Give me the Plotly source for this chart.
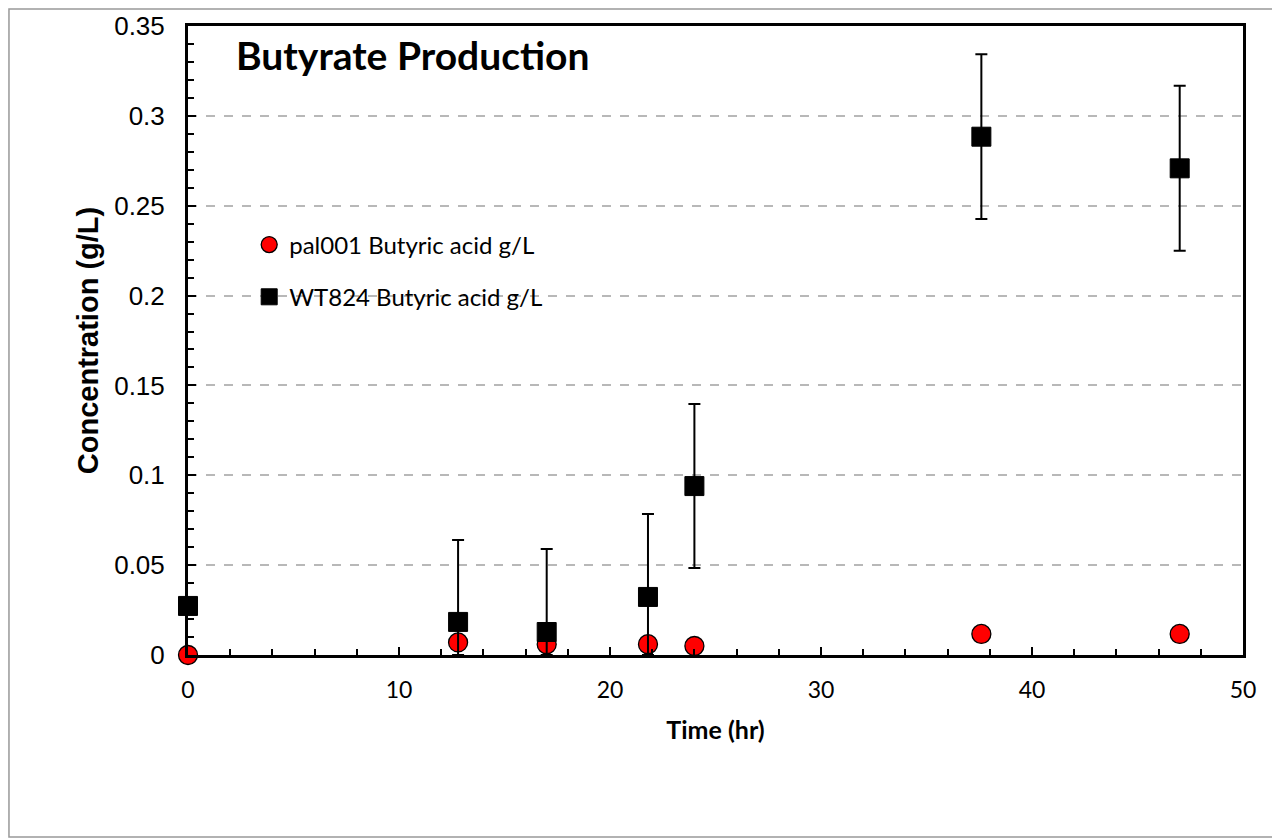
import plotly.graph_objects as go

# time points (hr)
time_hr = [0, 12.8, 17, 21.8, 24, 37.6, 47]

# pal001 butyric acid (g/L)
pal001 = [0.0, 0.007, 0.006, 0.006, 0.005, 0.0117, 0.0117]

# WT824 butyric acid (g/L) with error bars (up / down as visible)
wt824 = [0.0273, 0.0184, 0.0128, 0.0323, 0.094, 0.2884, 0.2708]
wt824_err_up = [0.0, 0.0456, 0.0462, 0.0462, 0.0457, 0.0459, 0.046]
wt824_err_down = [0.0, 0.0184, 0.0128, 0.0323, 0.0456, 0.0458, 0.0458]

FONT_AXIS = "Liberation Sans, Arial, sans-serif"
FONT_BODY = "Lato, Open Sans, sans-serif"

fig = go.Figure()

fig.add_trace(go.Scatter(
    x=time_hr, y=pal001, mode="markers", name="pal001 Butyric acid g/L",
    legendgroup="a",
    marker=dict(symbol="circle", size=19, color="#ff0000", line=dict(color="black", width=1.3)),
    cliponaxis=False,
))

fig.add_trace(go.Scatter(
    x=time_hr, y=wt824, mode="markers", name="WT824 Butyric acid g/L",
    legendgroup="b",
    marker=dict(symbol="square", size=19, color="black", line=dict(color="black", width=1)),
    error_y=dict(type="data", symmetric=False, array=wt824_err_up, arrayminus=wt824_err_down,
                 color="black", thickness=2, width=6),
    cliponaxis=False,
))

# page body has an 8px margin, so the figure is a bit smaller than the window
fig.update_layout(
    width=1272, height=831,
    plot_bgcolor="white",
    paper_bgcolor="white",
    margin=dict(l=180, r=37, t=18, b=184),
    font=dict(family=FONT_BODY, size=18, color="black"),
    showlegend=True,
    legend=dict(
        x=0.058, y=0.6876, xanchor="left", yanchor="top",
        bgcolor="rgba(0,0,0,0)", font=dict(family=FONT_BODY, size=24),
        traceorder="grouped", tracegroupgap=18, itemwidth=30,
    ),
    annotations=[dict(
        text="<b>Butyrate Production</b>", x=0.0436, y=0.954, xref="paper", yref="paper",
        xanchor="left", yanchor="middle", showarrow=False,
        font=dict(family=FONT_BODY, size=39, color="black"),
    )],
    shapes=[dict(
        type="rect", xref="paper", yref="paper",
        x0=-0.1697, x1=1.0322, y0=-0.2894, y1=1.027,
        line=dict(color="#999999", width=1.5), layer="below",
    )],
)

fig.update_xaxes(
    range=[0, 50], dtick=10, tick0=0, automargin=False,
    showline=True, linecolor="black", linewidth=3, mirror=True,
    ticks="inside", ticklen=8, tickwidth=2, tickcolor="black",
    minor=dict(dtick=2, ticks="inside", ticklen=6, tickwidth=2, tickcolor="black", showgrid=False),
    showgrid=False, zeroline=False,
    tickfont=dict(family=FONT_BODY, size=23),
    ticklabelstandoff=12,
    title=dict(text="<b>Time (hr)</b>", font=dict(family=FONT_BODY, size=25), standoff=20),
)

fig.update_yaxes(
    range=[0, 0.35], dtick=0.05, tick0=0, automargin=False,
    showline=True, linecolor="black", linewidth=3, mirror=True,
    ticks="inside", ticklen=8, tickwidth=2, tickcolor="black",
    minor=dict(dtick=0.01, ticks="inside", ticklen=6, tickwidth=2, tickcolor="black", showgrid=False),
    showgrid=True, gridcolor="#b8b8b8", gridwidth=1.5, griddash="dash",
    zeroline=False,
    tickfont=dict(family=FONT_AXIS, size=26),
    ticklabelstandoff=15,
    title=dict(text="<b>Concentration (g/L)</b>", font=dict(family=FONT_AXIS, size=29), standoff=8),
)

fig.write_html("out.html")
